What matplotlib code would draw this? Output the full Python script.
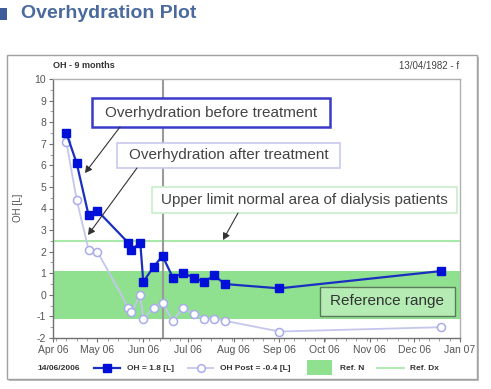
import matplotlib
matplotlib.use("Agg")
import matplotlib.pyplot as plt
import matplotlib.dates as mdates
from matplotlib.patches import Rectangle, FancyBboxPatch
from matplotlib.lines import Line2D
from datetime import datetime

plt.rcParams['font.family'] = ['Liberation Sans', 'DejaVu Sans']
plt.rcParams['axes.unicode_minus'] = False

# ---- data ----
dates = ["2006-04-10", "2006-04-17", "2006-04-25", "2006-05-01", "2006-05-22",
         "2006-05-24", "2006-05-30", "2006-06-01", "2006-06-08", "2006-06-14",
         "2006-06-21", "2006-06-28", "2006-07-05", "2006-07-12", "2006-07-19",
         "2006-07-26", "2006-09-01", "2006-12-19"]
oh_pre = [7.5, 6.1, 3.7, 3.9, 2.4, 2.1, 2.4, 0.6, 1.3, 1.8,
          0.8, 1.0, 0.8, 0.6, 0.9, 0.5, 0.3, 1.1]
oh_post = [7.1, 4.4, 2.1, 2.0, -0.6, -0.8, 0.0, -1.1, -0.6, -0.4,
           -1.2, -0.6, -0.9, -1.1, -1.1, -1.2, -1.7, -1.5]
ref_low, ref_high = -1.1, 1.1
upper_limit = 2.5
selected_date = "2006-06-14"
x_start, x_end = "2006-04-01", "2007-01-01"
y_min, y_max = -2, 10

title = "Overhydration Plot"
subtitle_left = "OH - 9 months"
subtitle_right = "13/04/1982 - f"
ylabel = "OH [L]"
legend_date = "14/06/2006"
legend_pre = "OH = 1.8 [L]"
legend_post = "OH Post = -0.4 [L]"
legend_refn = "Ref. N"
legend_refdx = "Ref. Dx"
note_before = "Overhydration before treatment"
note_after = "Overhydration after treatment"
note_upper = "Upper limit normal area of dialysis patients"
note_ref = "Reference range"

d = [datetime.strptime(s, "%Y-%m-%d") for s in dates]
sel = datetime.strptime(selected_date, "%Y-%m-%d")

W, H = 491, 389
fig = plt.figure(figsize=(W / 100, H / 100), dpi=100)
fig.patch.set_facecolor("white")


def fx(px):
    return px / W


def fy(py):
    return 1 - py / H


# panel frame (with slight shadow)
fig.add_artist(Rectangle((fx(9), fy(381)), fx(470), 324 / H, transform=fig.transFigure,
                         facecolor="#bdbdbd", edgecolor="none", zorder=0))
fig.add_artist(Rectangle((fx(7), fy(379)), fx(470), 324 / H, transform=fig.transFigure,
                         facecolor="white", edgecolor="#a0a0a0", lw=1.0, zorder=0.5))

# title
fig.add_artist(Rectangle((fx(0), fy(20)), fx(7), 12 / H, transform=fig.transFigure,
                         facecolor="#3d5c99", edgecolor="none"))
fig.text(fx(21), fy(14), title, fontsize=14, fontweight="bold", color="#4a6a9e",
         va="center", ha="left")

ax = fig.add_axes([fx(53), fy(338), fx(460 - 53), (338 - 79) / H])
ax.set_zorder(2)
ax.patch.set_alpha(0)

ax.axhspan(ref_low, ref_high, color="#8fe08f", lw=0, zorder=1)
ax.axhline(upper_limit, color="#a8e8a8", lw=1.5, zorder=1)
ax.axvline(sel, color="#9a9a9a", lw=1.5, zorder=2)

ax.plot(d, oh_post, color="#c4c6ee", lw=1.3, marker="o", ms=5.8,
        mfc="white", mec="#a9acea", mew=1.1, zorder=3)
ax.plot(d, oh_pre, color="#1a2fc0", lw=1.6, marker="s", ms=5.5,
        mfc="#0010d8", mec="#0010d8", zorder=4)

ax.set_xlim(datetime.strptime(x_start, "%Y-%m-%d"), datetime.strptime(x_end, "%Y-%m-%d"))
ax.set_ylim(y_min, y_max)
ax.set_yticks(range(y_min, y_max + 1))
ax.yaxis.set_minor_locator(matplotlib.ticker.MultipleLocator(0.5))
ax.xaxis.set_major_locator(mdates.MonthLocator())
ax.xaxis.set_major_formatter(mdates.DateFormatter("%b %y"))
ax.xaxis.set_minor_locator(mdates.WeekdayLocator(byweekday=mdates.MO))

for s in ["left", "bottom"]:
    ax.spines[s].set_color("#707070")
    ax.spines[s].set_linewidth(1.0)
for s in ["top", "right"]:
    ax.spines[s].set_color("#b0b0b0")
    ax.spines[s].set_linewidth(1.0)
ax.tick_params(which="major", length=3, width=0.8, color="#707070",
               labelsize=7.5, labelcolor="#555555", pad=2)
ax.tick_params(which="minor", length=2, width=0.6, color="#909090")

fig.text(fx(18), fy(208), ylabel, rotation=90, fontsize=7, color="#555555",
         va="center", ha="center")
fig.text(fx(53), fy(66), subtitle_left, fontsize=6.5, fontweight="bold",
         color="#333333", va="center", ha="left")
fig.text(fx(459), fy(66), subtitle_right, fontsize=7, color="#444444",
         va="center", ha="right")


# annotation boxes
def note_box(x0, y0, x1, y1, text, edge, face, lw, size=11, color="#444444"):
    fig.add_artist(FancyBboxPatch((fx(x0), fy(y1)), fx(x1 - x0), (y1 - y0) / H,
                                  boxstyle="square,pad=0", transform=fig.transFigure,
                                  facecolor=face, edgecolor=edge, lw=lw, zorder=5))
    fig.text(fx((x0 + x1) / 2), fy((y0 + y1) / 2), text, fontsize=size, color=color,
             ha="center", va="center", zorder=6)


def arrow(x0, y0, x1, y1):
    fig.add_artist(matplotlib.patches.FancyArrowPatch(
        (fx(x0), fy(y0)), (fx(x1), fy(y1)), transform=fig.transFigure,
        arrowstyle="-|>,head_length=4,head_width=2.2", color="#333333",
        lw=0.8, zorder=6, shrinkA=0, shrinkB=0))


note_box(92, 98, 330, 127, note_before, "#3a3ac8", "white", 1.8)
note_box(117, 143, 340, 168, note_after, "#c8c8f0", "white", 1.2)
note_box(152, 187, 457, 213, note_upper, "#c8eec8", "white", 1.2)
note_box(320, 287, 455, 316, note_ref, "#5a7a5a", "#b4ecb4", 1.0, color="#333333")

arrow(120, 127, 85, 173)
arrow(137, 168, 88, 235)
arrow(238, 213, 223, 240)

# legend row
ly = fy(368)
fig.text(fx(37), ly, legend_date, fontsize=6, fontweight="bold", color="#333333",
         va="center", ha="left")
fig.add_artist(Line2D([fx(94), fx(120)], [ly, ly], color="#1a2fc0", lw=1.6,
                      marker="none", transform=fig.transFigure))
fig.add_artist(Line2D([fx(107)], [ly], color="#0010d8", marker="s", ms=5.2,
                      transform=fig.transFigure))
fig.text(fx(127), ly, legend_pre, fontsize=6, fontweight="bold", color="#333333",
         va="center", ha="left")
fig.add_artist(Line2D([fx(188), fx(213)], [ly, ly], color="#c4c6ee", lw=1.3,
                      transform=fig.transFigure))
fig.add_artist(Line2D([fx(200.5)], [ly], marker="o", ms=5.5, mfc="white",
                      mec="#a9acea", mew=1.1, transform=fig.transFigure))
fig.text(fx(220), ly, legend_post, fontsize=6, fontweight="bold", color="#333333",
         va="center", ha="left")
fig.add_artist(Rectangle((fx(307), fy(375)), fx(25), 15 / H, transform=fig.transFigure,
                         facecolor="#8fe08f", edgecolor="none"))
fig.text(fx(340), ly, legend_refn, fontsize=6, fontweight="bold", color="#333333",
         va="center", ha="left")
fig.add_artist(Line2D([fx(377), fx(404)], [ly, ly], color="#a8e8a8", lw=1.3,
                      transform=fig.transFigure))
fig.text(fx(410), ly, legend_refdx, fontsize=6, fontweight="bold", color="#333333",
         va="center", ha="left")

fig.savefig("out.png", dpi=100)
